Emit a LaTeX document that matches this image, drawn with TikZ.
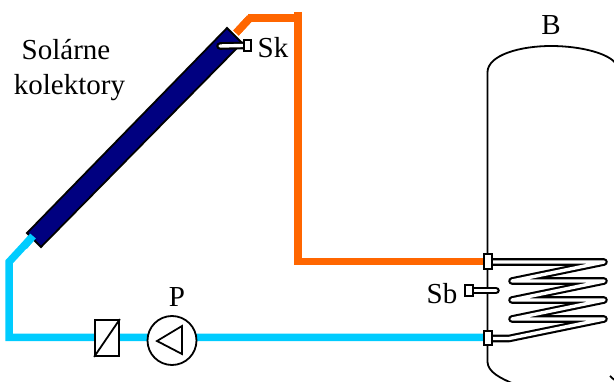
\documentclass[tikz,border=0pt]{standalone}
\usepackage{fontspec}
\setmainfont{Liberation Serif}
\definecolor{hotpipe}{HTML}{FF6600}
\definecolor{coldpipe}{HTML}{00CCFF}
\definecolor{panel}{HTML}{000080}
\tikzset{
  lbl/.style={font=\fontsize{29}{30}\selectfont, inner sep=0pt, text=black, anchor=base},
  hot/.style={draw=hotpipe, line width=7.5pt, line cap=butt, line join=miter},
  cold/.style={draw=coldpipe, line width=7.5pt, line cap=butt, line join=miter},
  outline/.style={draw=black, line width=1.8pt},
  tube/.style={draw=black, line width=2.1pt, double=white, double distance=3.4pt, line cap=round, line join=round},
  portbox/.style={rectangle, minimum width=8.5pt, minimum height=14.5pt, inner sep=0pt, outline, fill=white},
  sensorbox/.style={rectangle, minimum width=7.5pt, minimum height=11.5pt, inner sep=0pt, outline, fill=white},
}
\begin{document}
\begin{tikzpicture}[x=1pt,y=-1pt]
\useasboundingbox (0,0) rectangle (614,382);
% coordinates
\coordinate (kolA) at (227,28);
\coordinate (kolB) at (242,43);
\coordinate (kolC) at (41,247);
\coordinate (kolD) at (27,233);
\coordinate (hotStart) at (236,33);
\coordinate (hotA) at (250,18);
\coordinate (hotB) at (298,18);
\coordinate (hotTop) at (298,12);
\coordinate (hotC) at (298,261.5);
\coordinate (coldStart) at (33,236);
\coordinate (coldA) at (9,262);
\coordinate (coldB) at (9,337.5);
% ports
\node[portbox] (portTop) at (488,261.5) {};
\node[portbox] (portBot) at (488,338) {};
% pipes
\draw[hot] (hotStart) -- (hotA);
\draw[hot] (248,18) -- (hotB);
\draw[hot] (hotTop) -- (hotC) -- (portTop.west);
\draw[cold] (coldStart) -- (coldA) -- (coldB) -- (portBot.west |- coldB);
% collector
\draw[outline, fill=panel, line join=miter] (kolA) -- (kolB) -- (kolC) -- (kolD) -- cycle;
\draw[hot] (hotStart) -- (hotA);
\draw[cold] (coldStart) -- (24,246.5);
% tank
\draw[outline] (487.5,72) .. controls (488,55) and (520,46) .. (551,46) .. controls (582,46) and (610,54) .. (616,64);
\draw[outline] (487.5,72) -- (487.5,362) .. controls (488,372) and (500,378) .. (514,384);
\draw[outline] (616,381) .. controls (612,378) .. (610,376);
% coil
\draw[tube] (490,262) -- (604,262) -- (512,281) -- (604,281) -- (512,300) -- (604,300) -- (512,319) -- (604,319) -- (509,338.5) -- (490,338.5);
% ports over coil
\node[portbox] (portTopF) at (portTop) {};
\node[portbox] (portBotF) at (portBot) {};
% sensors
\coordinate (skTip) at (220,46);
\node[sensorbox] (skBox) at (247.5,45.5) {};
\draw[tube] (skTip) -- (skBox.west);
\node[sensorbox] (skBoxF) at (skBox) {};
\coordinate (sbTip) at (496,290.5);
\node[sensorbox] (sbBox) at (469,290.5) {};
\draw[tube] (sbBox.east) -- (sbTip);
\node[sensorbox] (sbBoxF) at (sbBox) {};
% valve
\node[rectangle, minimum width=24pt, minimum height=36pt, inner sep=0pt, outline, fill=white] (valve) at (107,338) {};
\draw[outline] (valve.south west) -- (valve.north east);
% pump
\node[circle, minimum size=49pt, inner sep=0pt, outline, fill=white] (pump) at (172,340.5) {};
\draw[outline, line join=miter] (157,341) -- (182,326) -- (182,354) -- cycle;
% labels
\node[lbl] (lblKolA) at (66,60) {Solárne};
\node[lbl] (lblKolB) at (69.5,95) {kolektory};
\node[lbl] (lblSk) at (273,58) {Sk};
\node[lbl] (lblB) at (551,35) {B};
\node[lbl] (lblP) at (177,307) {P};
\node[lbl] (lblSb) at (442,304) {Sb};
\end{tikzpicture}
\end{document}
